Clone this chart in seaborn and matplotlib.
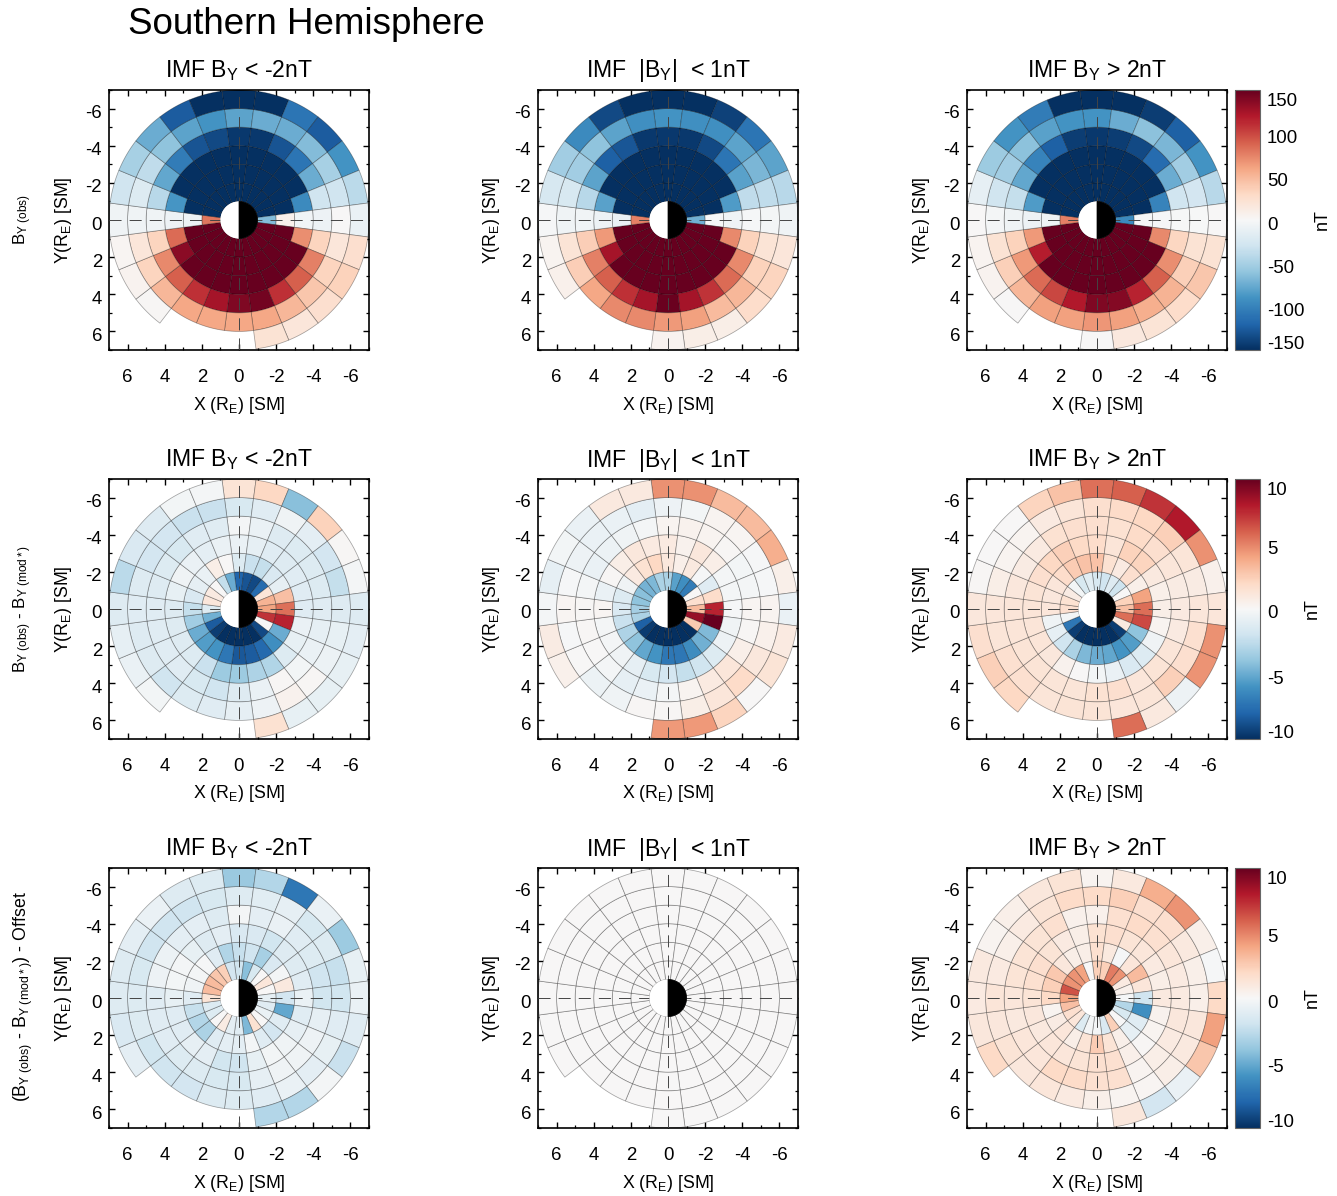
import numpy as np
import matplotlib
matplotlib.use("Agg")
import matplotlib.pyplot as plt
import seaborn as sns
from matplotlib.collections import PolyCollection
from matplotlib.colors import Normalize
from matplotlib.cm import ScalarMappable
from matplotlib.patches import Wedge
from matplotlib.ticker import MultipleLocator
from matplotlib.transforms import ScaledTranslation

N = float("nan")
# Each panel: rings 1-2 ... 6-7 RE; each ring: 24 sectors clockwise from the top of the plot.
R1C1 = [
 [-150,-150,-150,-150,-150,-150,-65,150,150,150,150,150,150,150,150,150,150,150,80,-150,-150,-150,-150,-150],
 [-150,-150,-150,-150,-150,-150,8,150,150,150,150,150,150,150,150,150,150,150,-8,-150,-150,-150,-150,-150],
 [-150,-150,-150,-150,-150,-95,-5,70,150,150,150,150,150,150,150,150,135,85,-8,-88,-150,-150,-150,-150],
 [-145,-145,-130,-110,-75,-30,-8,33,75,90,110,145,140,125,110,90,72,33,-6,-42,-78,-105,-130,-135],
 [-80,-75,-75,-65,-50,-30,0,18,33,42,50,58,58,58,58,50,33,18,-6,-20,-38,-60,-80,-90],
 [-150,-150,-110,-125,-90,-40,-10,25,35,25,18,22,N,N,N,2,5,3,-6,-30,-50,-75,-125,-150],
]
R1C2 = [
 [-150,-150,-150,-150,-150,-150,-72,150,150,150,150,150,150,150,150,150,150,150,75,-150,-150,-150,-150,-150],
 [-150,-150,-150,-150,-150,-150,-2,150,150,150,150,150,150,150,150,150,150,150,-10,-150,-150,-150,-150,-150],
 [-150,-150,-150,-150,-150,-85,-7,72,150,150,150,150,150,150,150,150,125,65,-8,-82,-150,-150,-150,-150],
 [-145,-145,-135,-110,-82,-38,-2,35,72,85,108,125,148,125,110,90,75,37,-5,-42,-80,-122,-128,-145],
 [-90,-92,-92,-80,-68,-38,-3,20,35,50,48,62,65,72,72,58,37,20,-6,-24,-52,-60,-80,-92],
 [-150,-150,-140,-110,-80,-42,-6,18,33,28,10,10,5,N,N,N,8,4,-2,-25,-52,-95,-135,-150],
]
R1C3 = [
 [-150,-150,-150,-150,-150,-150,-95,150,150,150,150,150,150,150,150,150,150,150,75,-150,-150,-150,-150,-150],
 [-150,-150,-150,-150,-150,-150,-2,150,150,150,150,150,150,150,150,150,150,150,-6,-150,-150,-150,-150,-150],
 [-150,-150,-150,-150,-150,-100,-2,72,150,150,150,150,150,150,150,150,118,65,-8,-85,-150,-150,-150,-150],
 [-145,-142,-135,-115,-75,-30,-1,32,70,90,115,138,140,120,100,85,65,34,-7,-36,-78,-100,-122,-142],
 [-90,-75,-62,-68,-52,-28,-1,22,36,52,55,62,66,62,62,50,36,22,-3,-30,-52,-62,-82,-90],
 [-150,-150,-142,-122,-90,-42,0,22,42,28,20,16,1,N,N,1,5,4,0,-14,-54,-90,-105,-150],
]
R2C1 = [
 [-8,-8.6,-9,-7.7,1.3,3.5,4,7.2,0,-9,-10,-10,-10,-10,-10,-9.5,-8.3,-4.8,-1.3,1.2,0.9,0,-2.4,-5],
 [-1.4,-2.2,-2.4,-1.5,-0.9,3,5.5,7.7,-5,-6.2,-7.8,-8.3,-8.5,-7.2,-6,-5.6,-5,-3.5,-2.4,-1.5,-0.9,-0.7,0.7,0],
 [-0.7,-0.9,-1.2,-1.3,-1.2,-1.2,-1.2,-0.7,-0.8,-1.4,-3,-3.1,-3.6,-3.6,-2.2,-1.4,-1.3,-1.3,-1.3,-0.8,-0.4,-0.7,-1,-0.7],
 [-0.2,-0.7,-1.3,-1.4,-1.4,-1.4,-1.2,-0.9,-0.7,-0.3,0.1,-0.7,-1.3,-2,-1.6,-1.2,-1.2,-1.2,-1.2,-1.3,-1.4,-1.6,-1.2,-1.2],
 [-1.6,-1.2,-0.4,-1,-1.8,-2.4,-1.3,-0.8,-0.6,0.1,0.4,-0.5,-0.9,-1.2,-1.4,-2,-1.3,-1.3,-1.2,-1.3,-1.8,-1.8,-2.2,-2.2],
 [1.4,2.1,-4.2,2.3,0.1,-0.2,-1.3,-1,-0.8,-0.8,-0.8,1.5,N,N,N,-0.3,-0.7,-0.9,-1.3,-2.7,-1.5,-1.3,-0.3,-0.2],
]
R2C2 = [
 [-3.2,-5.4,-6.2,-7,0,1.7,3.2,8.7,2.6,-10,-10,-10,-10,-10,-10,-9.6,-8.2,-3.2,-3.4,-4,-4.2,-4.7,-4.5,-3.2],
 [1.1,0.6,1,-0.1,-1.2,1.8,7.7,10,-4.4,-4.8,-6.3,-7.2,-7.2,-6,-5.2,-4,-3.1,-2.2,-1.5,-1.4,-0.4,0.9,1.5,2.1],
 [0.9,0.4,1.1,0.7,-0.2,-0.2,-0.1,-0.4,-0.5,-1.4,-2,-2.4,-1.8,-1.6,-0.9,-0.4,-0.2,-0.2,0.2,-0.7,0.1,0.7,1.1,0.9],
 [0.3,0.4,0.3,0.1,-0.3,-0.2,0.2,0.1,0.6,1.2,0.9,0.3,-0.2,-0.7,-0.9,-0.2,0,0.1,0.1,-0.2,-0.7,-0.6,-0.4,-0.2],
 [-0.5,-0.3,0.3,0.2,-0.1,-0.1,0.3,0.5,1.1,1.9,1.2,0.7,0.1,0.1,-0.4,-0.6,0,-0.1,0.2,-0.1,-0.5,-0.7,-0.7,-1],
 [4.6,4.6,3.2,3.2,3.6,0.6,-0.7,0.9,1.4,0,2.2,4.3,4.3,N,N,N,0.5,0.8,-0.2,-0.9,-0.3,-0.7,1,1],
]
R2C3 = [
 [-1.7,-2,-1.3,-2.1,0,2.3,3,5.6,0.9,-9.5,-10,-10,-10,-10,-10,-9.5,-7.2,-0.2,1.7,1.5,0.8,-0.3,-1.6,-1.1],
 [2.9,1.5,0.9,1.7,0.6,4,5.6,6.6,-4,-5.6,-6,-5.2,-5,-4.5,-3.2,-2,-0.9,-0.4,1.2,1.1,1.2,1.8,2.5,2.9],
 [1.8,1.3,2.3,2.2,1,0.6,0.7,0.3,-0.4,-1.4,-1.5,-0.7,-0.3,0,0.4,1.1,1.3,1.3,1.3,1.4,1.7,2.1,2.4,2],
 [1.7,1.5,1.9,1.7,1.2,0.8,0.9,0.9,1.3,1.4,1.2,1.7,1.5,1.3,1.3,1.4,1.4,1.3,1.3,1.1,0.8,0.9,1.5,1.7],
 [1.7,1.9,2.1,2.4,1.3,0.8,1.2,1.6,1.7,2.4,1.3,1.2,1.4,1.4,1.3,1.6,1.6,1.3,1.2,0.7,0.3,0.3,0.9,1.3],
 [5.5,6,7.2,8,4.6,0.5,1.2,4.6,4.5,-0.5,1,5.6,N,N,N,2.1,2.4,1.7,1.1,0.1,0,0,2.2,2.9],
]
R3C1 = [
 [-2,-4.2,-1.6,0,1.2,0,-0.9,-1.2,-0.7,0,1.5,-4.5,-1.2,-1,0.8,0,-1.4,-1.4,1.4,3.2,3.2,2.8,2.4,-1.8],
 [-2.3,-2,-3.3,-1.5,-0.2,1,-1.8,-5.2,-1.2,-1.8,-1.2,-0.2,-1,-1,-1.2,-3.2,-2.9,-2.3,-1.2,-0.4,-0.2,-0.1,-1.2,-3],
 [-1.5,-1.5,-1.9,-1.3,-1.3,-1.2,-0.7,-1.2,-0.9,-0.4,-0.3,-0.8,-2,-1.9,-1,-0.9,-1.2,-1.2,-0.8,-0.3,-0.2,-0.8,-1.3,-1],
 [-0.2,-1,-0.7,-1.2,-1.4,-2,-1.9,-0.9,-0.5,-0.4,-0.4,-0.9,-1.6,-1.6,-1.4,-1.4,-1.2,-1.2,-1.2,-0.5,-0.6,-1,-1,-1.3],
 [-1.3,-1.1,-0.9,-1.6,-1.4,-2.3,-1.9,-1.2,-0.8,-1,-0.7,-1.2,-1.4,-1.4,-1.8,-2,-1.9,-1.4,-1.4,-1.6,-2,-2,-2,-1.6],
 [-3.7,-2.9,-7.2,-0.7,-3.6,-0.8,-0.7,-1.2,-2.2,-0.2,-2.9,-2.9,N,N,N,N,-1,-1.5,-1.3,-1.3,-1,-0.7,-1.3,-1.4],
]
R3C2 = [
 [0,0,0,0,0,0,0,0,0,0,0,0,0,0,0,0,0,0,0,0,0,0,0,0],
 [0,0,0,0,0,0,0,0,0,0,0,0,0,0,0,0,0,0,0,0,0,0,0,0],
 [0,0,0,0,0,0,0,0,0,0,0,0,0,0,0,0,0,0,0,0,0,0,0,0],
 [0,0,0,0,0,0,0,0,0,0,0,0,0,0,0,0,0,0,0,0,0,0,0,0],
 [0,0,0,0,0,0,0,0,0,0,0,0,0,0,0,0,0,0,0,0,0,0,0,0],
 [0,0,0,0,0,0,0,0,0,0,0,0,0,N,N,N,0,0,0,0,0,0,0,0],
]
R3C3 = [
 [2.4,2.4,5.2,4.5,0.9,0.5,-0.1,-2.9,-1.6,0,2.4,-1.5,-0.2,-0.2,-1.4,1.2,1.7,3,4,6.4,4.5,4.5,4,0],
 [1.6,1,-0.1,1.2,3.2,1.2,-2,-6.2,-1.2,-0.9,0.6,1.4,2.5,1.4,0.7,1.2,0.8,0.3,2,2.4,2.7,1.1,0.7,0.7],
 [1.5,1.7,1.4,1.2,0.9,0.7,1,0.4,0.3,0.1,0.6,1.6,1.6,1.4,1.2,1.2,1,1.1,1.4,1.6,1.7,1.4,0.9,0.7],
 [0.5,1.6,1.9,1.6,1.2,0.9,0.9,1.1,0.9,0.7,0.3,1.6,1.6,1.9,2,1.2,1.2,1,1.2,1.4,1.4,1.4,1.6,0.5],
 [1.9,2.4,1.7,1.7,1,0.6,0.6,1.1,1,0.7,0.2,0.3,0.6,0.9,1.2,1.1,1.4,1.1,1.3,0.9,0.6,0.9,1.4,1.9],
 [0.3,1,3.6,4.5,0.6,-0.1,2,4.1,2.8,-0.7,-1.8,1.1,N,N,N,N,2,1.1,0.9,1,0.3,0.6,1.1,1.4],
]
PANELS = [[R1C1, R1C2, R1C3], [R2C1, R2C2, R2C3], [R3C1, R3C2, R3C3]]

RING_EDGES = [1, 2, 3, 4, 5, 6, 7]
SECTOR_WIDTH = 15.0
COLOR_LIMITS = [150, 10, 10]
CBAR_TICKS = [[-150, -100, -50, 0, 50, 100, 150], [-10, -5, 0, 5, 10], [-10, -5, 0, 5, 10]]
AXIS_TICKS = [-6, -4, -2, 0, 2, 4, 6]
COL_TITLES = [r"IMF B$_{\mathrm{Y}}$ < -2nT", r"IMF  |B$_{\mathrm{Y}}$|  < 1nT", r"IMF B$_{\mathrm{Y}}$ > 2nT"]
ROW_LABELS = [r"B$_{\mathrm{Y\ (obs)}}$",
              r"B$_{\mathrm{Y\ (obs)}}$ - B$_{\mathrm{Y\ (mod*)}}$",
              r"(B$_{\mathrm{Y\ (obs)}}$ - B$_{\mathrm{Y\ (mod*)}}$) - Offset"]
ROW_LABEL_SIZES = [12.2, 12.2, 12.8]

sns.set_theme(style="ticks")
FONT = ["Liberation Sans", "DejaVu Sans"]
plt.rcParams.update({
    "font.family": FONT,
    "mathtext.fontset": "custom",
    "mathtext.rm": "Liberation Sans",
    "mathtext.it": "Liberation Sans",
    "mathtext.default": "regular",
    "axes.unicode_minus": False,
    "text.color": "black", "axes.labelcolor": "black",
    "xtick.color": "black", "ytick.color": "black",
})
cmap = sns.color_palette("RdBu_r", as_cmap=True)

W, H = 1337, 1196
fig = plt.figure(figsize=(W / 100, H / 100), dpi=100, facecolor="white")
label_shift = ScaledTranslation(0, -3 / 100, fig.dpi_scale_trans)


def px_axes(x0, y0, x1, y1):
    return fig.add_axes([x0 / W, 1 - y1 / H, (x1 - x0) / W, (y1 - y0) / H])


def cell_polygon(ring, k):
    a = np.radians(np.linspace(k * SECTOR_WIDTH - SECTOR_WIDTH / 2, k * SECTOR_WIDTH + SECTOR_WIDTH / 2, 9))
    r0, r1 = RING_EDGES[ring], RING_EDGES[ring + 1]
    outer = np.c_[-r1 * np.sin(a), -r1 * np.cos(a)]
    inner = np.c_[-r0 * np.sin(a), -r0 * np.cos(a)][::-1]
    return np.vstack([outer, inner])


COL_X = [109, 538, 967]
ROW_Y = [90, 479, 868]
SIZE = 260

for i, row in enumerate(PANELS):
    lim = COLOR_LIMITS[i]
    norm = Normalize(-lim, lim)
    for j, table in enumerate(row):
        x0, y0 = COL_X[j], ROW_Y[i]
        ax = px_axes(x0, y0, x0 + SIZE, y0 + SIZE)
        verts, vals = [], []
        for ring, values in enumerate(table):
            for k, v in enumerate(values):
                if np.isfinite(v):
                    verts.append(cell_polygon(ring, k))
                    vals.append(v)
        coll = PolyCollection(verts, array=np.array(vals), cmap=cmap, norm=norm,
                              edgecolors=(0, 0, 0, 0.35), linewidths=0.55, zorder=2)
        ax.add_collection(coll)
        ax.set_xlim(7, -7)
        ax.set_ylim(7, -7)
        ax.axhline(0, color="#444444", lw=0.7, dashes=(12.4, 8.3), zorder=3)
        ax.axvline(0, color="#444444", lw=0.7, dashes=(12.4, 8.3), zorder=3)
        ax.add_patch(Wedge((0, 0), 1, 270, 90, fc="white", ec="none", zorder=4))
        ax.add_patch(Wedge((0, 0), 1, 90, 270, fc="black", ec="black", lw=0.5, zorder=4))
        ax.set_xticks(AXIS_TICKS)
        ax.set_yticks(AXIS_TICKS)
        ax.set_xticklabels([str(t) for t in AXIS_TICKS])
        ax.set_yticklabels([str(t) for t in AXIS_TICKS])
        ax.xaxis.set_minor_locator(MultipleLocator(1))
        ax.yaxis.set_minor_locator(MultipleLocator(1))
        ax.tick_params(which="major", direction="in", top=True, right=True, length=4, width=1.0, labelsize=13.4)
        ax.tick_params(which="minor", direction="in", top=True, right=True, length=2, width=0.9)
        ax.tick_params(axis="x", which="major", pad=14)
        ax.tick_params(axis="y", which="major", pad=5)
        for lab in ax.get_yticklabels():
            lab.set_transform(lab.get_transform() + label_shift)
        for s in ax.spines.values():
            s.set_linewidth(1.2)
            s.set_color("black")
        ax.set_title(COL_TITLES[j], fontsize=16.6, pad=9)
        ax.set_xlabel(r"X (R$_{\mathrm{E}}$) [SM]", fontsize=12.8, va="center")
        ax.xaxis.set_label_coords(0.5, -55 / SIZE)
        ax.set_ylabel(r"Y(R$_{\mathrm{E}}$) [SM]", fontsize=12.8, va="center")
        ax.yaxis.set_label_coords(-46 / SIZE, 0.5)

    cax = px_axes(1235, ROW_Y[i], 1260, ROW_Y[i] + SIZE)
    cb = fig.colorbar(ScalarMappable(norm=norm, cmap=cmap), cax=cax)
    cb.set_ticks(CBAR_TICKS[i])
    cb.ax.tick_params(length=0, labelsize=13.4, pad=5)
    cb.outline.set_linewidth(0.8)
    cb.outline.set_edgecolor("#666666")
    labels = cb.ax.get_yticklabels()
    for lab in labels:
        lab.set_transform(lab.get_transform() + label_shift)
    labels[0].set_verticalalignment("bottom")
    labels[-1].set_verticalalignment("top")
    cb.set_label("nT", fontsize=13, va="center")
    cb.ax.yaxis.set_label_coords(((1322 if i == 0 else 1312) - 1235) / 25, 0.5)

    fig.text(23 / W, 1 - (ROW_Y[i] + 130 + (-1 if i == 2 else 0)) / H, ROW_LABELS[i], rotation=90,
             ha="center", va="center", fontsize=ROW_LABEL_SIZES[i])

fig.text(128 / W, 1 - 24.5 / H, "Southern Hemisphere", fontsize=26.5, ha="left", va="center")
fig.savefig("out.png", dpi=100)
